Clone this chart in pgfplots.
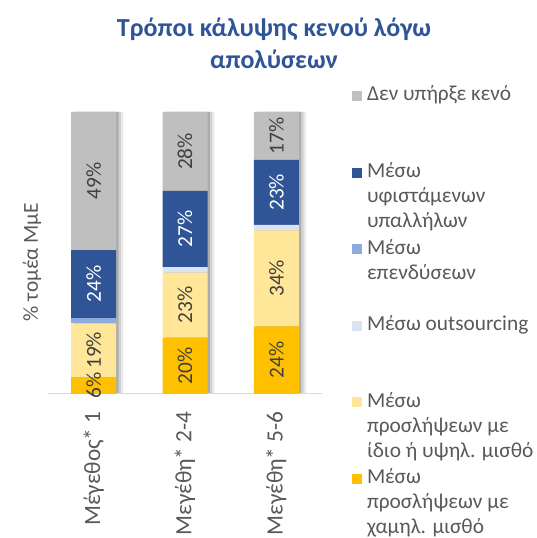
\documentclass[border=0pt]{standalone}
\usepackage{pgfplots}
\pgfplotsset{compat=1.18}
\usepackage{fontspec}
\setmainfont{Carlito}
\definecolor{cnone}{HTML}{BFBFBF}
\definecolor{cexist}{HTML}{2F5597}
\definecolor{cinvest}{HTML}{8FAADC}
\definecolor{cout}{HTML}{DAE3F3}
\definecolor{chigh}{HTML}{FFE699}
\definecolor{clow}{HTML}{FFC000}
\definecolor{titleblue}{HTML}{2F5597}
\definecolor{txtgray}{HTML}{595959}
\definecolor{lblgray}{HTML}{404040}
\definecolor{axgray}{HTML}{D9D9D9}
\newcommand{\fs}{\fontsize{16}{18.75}\selectfont}
\begin{document}
\begin{tikzpicture}
\useasboundingbox (0,0) rectangle (402pt,403.5pt);
\pgfplotsset{base/.style={scale only axis, width=205.5pt, height=211.5pt,
  xmin=-0.5, xmax=2.5, ymin=0, ymax=100, at={(36pt,108pt)}, anchor=south west}}
% shadows of the bars
\begin{axis}[base, hide axis, ybar, bar width=33.75pt]
\addplot[fill=black!8, draw=none, bar shift=5.25pt] coordinates {(0,100) (1,100) (2,100)};
\addplot[fill=black!18, draw=none, bar shift=3.5pt] coordinates {(0,100) (1,100) (2,100)};
\addplot[fill=black!32, draw=none, bar shift=1.75pt] coordinates {(0,100) (1,100) (2,100)};
\end{axis}
% stacked bars
\begin{axis}[base, ybar stacked, bar width=33.75pt,
  axis x line*=bottom, axis y line*=left,
  x axis line style={draw=axgray, line width=0.75pt, -},
  y axis line style={draw=none},
  xtick={0,1,2}, xticklabels={Μέγεθος* 1, Μεγέθη* 2-4, Μεγέθη* 5-6},
  major tick length=0pt, ytick=\empty,
  xticklabel style={yshift=-9.5pt, rotate=90, anchor=east, font=\fontsize{17.5}{20}\selectfont, text=txtgray},
  ylabel={\% τομέα ΜμΕ},
  every axis y label/.style={at={(rel axis cs:0,0.468)}, xshift=-12pt, rotate=90, anchor=center, font=\fs, text=txtgray},
  reverse legend,
  legend image code/.code={\path[draw=none, fill=none] (0pt,-44.4pt) rectangle (7.5pt,13pt); \fill[#1] (0pt,0pt) rectangle (7.5pt,7.5pt);},
  legend style={draw=none, fill=none, inner sep=0pt, outer sep=0pt,
    at={(1.1095,1.1005)}, anchor=north west, row sep=0pt,
    font=\fs, text=txtgray, cells={anchor=base west}, nodes={inner sep=0pt, text depth=},
    /tikz/every odd column/.append style={column sep=3.75pt}},
]
\addplot[fill=clow, draw=none] coordinates {(0,6) (1,20) (2,24)};
\addlegendentry{\vtop{\hbox{Μέσω}\hbox{προσλήψεων με}\hbox{χαμηλ. μισθό}}}
\addplot[fill=chigh, draw=none] coordinates {(0,19) (1,23) (2,34)};
\addlegendentry{\vtop{\hbox{Μέσω}\hbox{προσλήψεων με}\hbox{ίδιο ή υψηλ. μισθό}}}
\addplot[fill=cout, draw=none] coordinates {(0,0) (1,2) (2,2)};
\addlegendentry{Μέσω outsourcing}
\addplot[fill=cinvest, draw=none] coordinates {(0,2) (1,0) (2,0)};
\addlegendentry{\vtop{\hbox{Μέσω}\hbox{επενδύσεων}}}
\addplot[fill=cexist, draw=none] coordinates {(0,24) (1,27) (2,23)};
\addlegendentry{\vtop{\hbox{Μέσω}\hbox{υφιστάμενων}\hbox{υπαλλήλων}}}
\addplot[fill=cnone, draw=none] coordinates {(0,49) (1,28) (2,17)};
\addlegendentry{Δεν υπήρξε κενό}
\end{axis}
% data labels
\begin{axis}[base, hide axis]
\addplot[draw=none, mark=none, nodes near coords, point meta=explicit symbolic,
  every node near coord/.append style={rotate=90, anchor=center, font=\fs, text=lblgray}]
  coordinates {(0,3) [6\%] (0,15.5) [19\%] (0,75.5) [49\%]
               (1,10) [20\%] (1,31.5) [23\%] (1,86) [28\%]
               (2,12) [24\%] (2,41) [34\%] (2,91.5) [17\%]};
\addplot[draw=none, mark=none, nodes near coords, point meta=explicit symbolic,
  every node near coord/.append style={rotate=90, anchor=center, font=\fs, text=white}]
  coordinates {(0,39) [24\%] (1,58.5) [27\%] (2,71.5) [23\%]};
\end{axis}
\node[anchor=base, text=titleblue, font=\fontsize{19.5}{24}\selectfont\bfseries]
  at (205.5pt,375.75pt) {\begin{tabular}[t]{@{}c@{}}Τρόποι κάλυψης κενού λόγω\\ απολύσεων\end{tabular}};
\end{tikzpicture}
\end{document}
